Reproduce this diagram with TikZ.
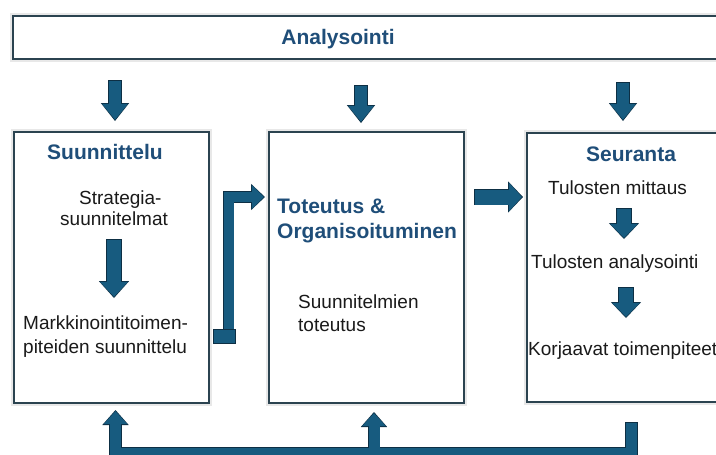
\documentclass[tikz,border=0pt]{standalone}
\usepackage{fontspec}
\setmainfont{Liberation Sans}
\usetikzlibrary{arrows.meta}
\definecolor{arrfill}{HTML}{175B7F}
\definecolor{arrline}{HTML}{0D2F44}
\definecolor{boxline}{HTML}{2B4350}
\definecolor{titleblue}{HTML}{1F4E79}
\definecolor{bodytext}{HTML}{1A1A1A}
\begin{document}
\begin{tikzpicture}[x=1pt,y=-1pt,
  panel/.style={draw=boxline, line width=2pt, fill=white, preaction={draw=black!9, line width=6pt}, rectangle, inner sep=0pt, anchor=north west},
  head/.style={font=\fontsize{21}{25}\selectfont\bfseries, text=titleblue, inner sep=0pt},
  body/.style={font=\fontsize{19}{22}\selectfont, text=bodytext, inner sep=0pt},
  blkO/.style n args={3}{draw=arrline, line width=#1, line join=miter, -{Triangle[width=#2,length=#3,line width=0pt]}},
  blkI/.style n args={3}{draw=arrfill, line width=#1, line join=miter, shorten >=1.2pt, shorten <=0.8pt, -{Triangle[width=#2,length=#3,line width=0pt]}},
  footbox/.style={draw=arrline, fill=arrfill, line width=0.8pt, inner sep=0pt, minimum width=22pt, minimum height=14pt, anchor=north west},
]
\useasboundingbox (0,0) rectangle (716,455);
\clip (0,0) rectangle (716,455);

% panels
\node[panel, minimum width=718pt, minimum height=43pt] (ana) at (12,15) {};
\node[panel, minimum width=195pt, minimum height=271pt] (plan) at (13,131) {};
\node[panel, minimum width=195pt, minimum height=271pt] (impl) at (268,131) {};
\node[panel, minimum width=240pt, minimum height=269pt] (mon) at (526,132) {};

% texts
\node[head, anchor=base] (anaT) at (338,44) {Analysointi};
\node[head, anchor=base west] (planT) at (47,159) {Suunnittelu};
\node[body, anchor=base west] (p1) at (79,204) {Strategia-};
\node[body, anchor=base west] (p2) at (60,225) {suunnitelmat};
\node[body, anchor=base west] (p3) at (23,329) {Markkinointitoimen-};
\node[body, anchor=base west] (p4) at (23,353) {piteiden suunnittelu};
\node[head, anchor=base west] (implT1) at (277,213) {Toteutus \&};
\node[head, anchor=base west] (implT2) at (277,238) {Organisoituminen};
\node[body, anchor=base west] (i1) at (298,308) {Suunnitelmien};
\node[body, anchor=base west] (i2) at (298,331) {toteutus};
\node[head, anchor=base] (monT) at (631,161) {Seuranta};
\node[body, anchor=base west] (m1) at (548,194) {Tulosten mittaus};
\node[body, anchor=base west] (m2) at (531,268) {Tulosten analysointi};
\node[body, anchor=base west] (m3) at (528,355) {Korjaavat toimenpiteet};

% arrow end points
\coordinate (t1s) at (115,80);  \coordinate (t1e) at (115,121);
\coordinate (t2s) at (361,85);  \coordinate (t2e) at (361,123);
\coordinate (t3s) at (623,82);  \coordinate (t3e) at (623,121);
\coordinate (ps) at (114,239);  \coordinate (pe) at (114,298);
\coordinate (ma) at (624,208);  \coordinate (mb) at (624,239);
\coordinate (mc) at (626,287);  \coordinate (md) at (626,318);
\coordinate (hs) at (474,197);  \coordinate (he) at (523,197);
\coordinate (bs) at (228.5,343); \coordinate (bc) at (228.5,197); \coordinate (be) at (265,197);
\coordinate (fs) at (631.5,422); \coordinate (f1) at (631.5,453.5);
\coordinate (f2) at (115.5,453.5); \coordinate (fe) at (115.5,410);
\coordinate (gs) at (374,453.5); \coordinate (ge) at (374,412);

% outlines
\draw[blkO={13.6pt}{28.4pt}{18pt}] (t1s) -- (t1e);
\draw[blkO={13.6pt}{28.4pt}{18pt}] (t2s) -- (t2e);
\draw[blkO={13.6pt}{28.4pt}{18pt}] (t3s) -- (t3e);
\draw[blkO={15.6pt}{30.4pt}{17pt}] (ps) -- (pe);
\draw[blkO={15.6pt}{30.4pt}{16pt}] (ma) -- (mb);
\draw[blkO={15.6pt}{30.4pt}{16pt}] (mc) -- (md);
\draw[blkO={16.6pt}{31.4pt}{15pt}] (hs) -- (he);
\draw[blkO={11.6pt}{26.4pt}{14pt}] (bs) -- (bc) -- (be);
\draw[blkO={12.6pt}{26.4pt}{15pt}] (fs) -- (f1) -- (f2) -- (fe);
\draw[blkO={12.6pt}{26.4pt}{15pt}] (gs) -- (ge);
% fills
\draw[blkI={12pt}{26pt}{16pt}] (t1s) -- (t1e);
\draw[blkI={12pt}{26pt}{16pt}] (t2s) -- (t2e);
\draw[blkI={12pt}{26pt}{16pt}] (t3s) -- (t3e);
\draw[blkI={14pt}{28pt}{15pt}] (ps) -- (pe);
\draw[blkI={14pt}{28pt}{14pt}] (ma) -- (mb);
\draw[blkI={14pt}{28pt}{14pt}] (mc) -- (md);
\draw[blkI={15pt}{29pt}{13pt}] (hs) -- (he);
\draw[blkI={10pt}{24pt}{12pt}] (bs) -- (bc) -- (be);
\draw[blkI={11pt}{24pt}{13pt}] (fs) -- (f1) -- (f2) -- (fe);
\draw[blkI={11pt}{24pt}{13pt}, shorten <=0pt] (gs) -- (ge);

\node[footbox] (foot) at (213,329) {};
\end{tikzpicture}
\end{document}
